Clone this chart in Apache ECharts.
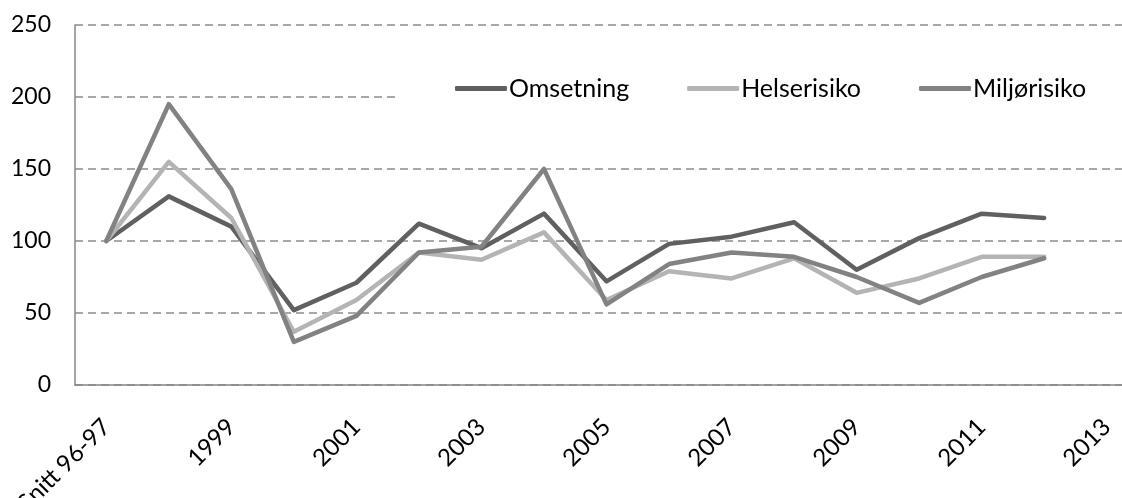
<!DOCTYPE html>
<html>
<head>
<meta charset="utf-8">
<script src="https://cdn.jsdelivr.net/npm/echarts@6/dist/echarts.min.js"></script>
<style>
html,body{margin:0;padding:0;background:#fff;}
#chart{width:1122px;height:498px;}
</style>
</head>
<body>
<div id="chart"></div>
<script>
var categories = ['Snitt 96-97','1998','1999','2000','2001','2002','2003','2004','2005','2006','2007','2008','2009','2010','2011','2012','2013'];
var seriesNames = ['Omsetning','Helserisiko','Miljørisiko'];
var omsetning   = [100,131,110,52,71,112,95,119,72,98,103,113,80,102,119,116];
var helserisiko = [100,155,116,37,59,92,87,106,59,79,74,88,64,74,89,89];
var miljorisiko = [100,195,136,30,48,92,96,150,56,84,92,89,75,57,75,88];
var yTicks = [0,50,100,150,200,250];

var FONT = 'Lato';
var chart = echarts.init(document.getElementById('chart'));
function mk(name, data, color){
  return {
    name: name, type: 'line', data: data,
    showSymbol: false, symbol: 'none',
    lineStyle: {color: color, width: 4.5, cap: 'round', join: 'round'},
    itemStyle: {color: color},
    animation: false
  };
}
chart.setOption({
  animation: false,
  textStyle: {fontFamily: FONT},
  grid: {left: 75, right: -16, top: 25, bottom: 113, containLabel: false, outerBoundsMode: 'none'},
  legend: {
    data: seriesNames,
    left: 395, top: 56,
    width: 800,
    backgroundColor: '#ffffff',
    padding: [20, 60, 25, 60],
    icon: 'roundRect',
    itemWidth: 52, itemHeight: 5,
    itemGap: 58,
    textStyle: {fontFamily: FONT, fontSize: 25, color: '#000', padding: [0,0,0,-3]},
    z: 10
  },
  xAxis: {
    type: 'category',
    data: categories,
    boundaryGap: true,
    axisLine: {show: true, lineStyle: {color: '#868686', width: 1.5}},
    axisTick: {show: false},
    splitLine: {show: false},
    axisLabel: {interval: 1, rotate: 45, margin: 38, color: '#000', fontFamily: FONT, fontSize: 24}
  },
  yAxis: {
    type: 'value',
    min: yTicks[0], max: yTicks[yTicks.length-1], interval: 50,
    axisLine: {show: true, lineStyle: {color: '#868686', width: 1.5}},
    axisTick: {show: false},
    splitLine: {show: true, lineStyle: {color: '#8c8c8c', width: 1.5, type: [8,5]}},
    axisLabel: {margin: 24, color: '#000', fontFamily: FONT, fontSize: 23}
  },
  series: [
    mk(seriesNames[0], omsetning, '#606060'),
    mk(seriesNames[1], helserisiko, '#b4b4b4'),
    mk(seriesNames[2], miljorisiko, '#828282')
  ]
});
</script>
</body>
</html>
